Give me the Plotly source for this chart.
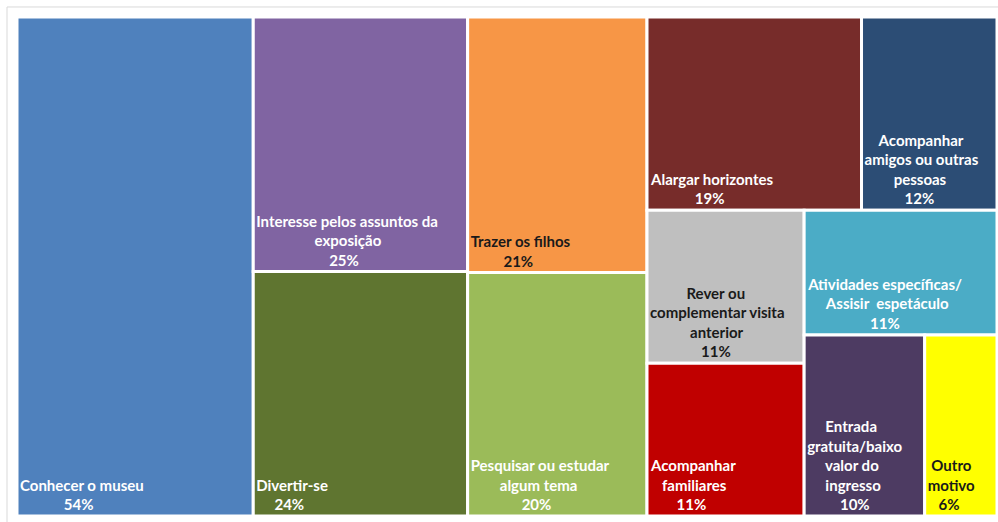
import plotly.graph_objects as go

# Motivos da visita (% de respostas, resposta múltipla)
motivos = [
    "Conhecer o museu",
    "Interesse pelos assuntos da|exposição",
    "Divertir-se",
    "Trazer os filhos",
    "Pesquisar ou estudar|algum tema",
    "Alargar horizontes",
    "Acompanhar|amigos ou outras|pessoas",
    "Rever ou|complementar visita|anterior",
    "Acompanhar|familiares",
    "Atividades específicas/|Assisir  espetáculo",
    "Entrada|gratuita/baixo|valor do|ingresso",
    "Outro|motivo",
]
percentuais = [54, 25, 24, 21, 20, 19, 12, 11, 11, 11, 10, 6]

cores = [
    "#4F81BD", "#8064A2", "#5F7530", "#F79646", "#9BBB59", "#772C2A",
    "#2C4D75", "#BFBFBF", "#C00000", "#4BACC6", "#4D3B62", "#FFFF00",
]
cores_texto = [
    "white", "white", "white", "#1a1a1a", "white", "white",
    "white", "#1a1a1a", "white", "white", "white", "#1a1a1a",
]

FONTE = 15
NBSP = "\u00a0"

# rough advance widths (em) of Lato Bold, used to centre the label lines
LARG = {
    "a": 0.51, "b": 0.56, "c": 0.46, "d": 0.56, "e": 0.52, "f": 0.33,
    "g": 0.50, "h": 0.56, "i": 0.25, "j": 0.25, "k": 0.52, "l": 0.25,
    "m": 0.83, "n": 0.56, "o": 0.56, "p": 0.56, "q": 0.56, "r": 0.37,
    "s": 0.42, "t": 0.36, "u": 0.56, "v": 0.51, "w": 0.76, "x": 0.51,
    "y": 0.51, "z": 0.44, " ": 0.193, "%": 0.76, "/": 0.37, "-": 0.35,
}
LARG_NBSP = 0.25


def largura(s):
    w = 0.0
    for c in s:
        base = "aeiou"["áàãâéêíóõôú".find(c) // 2] if c in "áàãâéêíóõôú" else c
        if base == "ç":
            base = "c"
        if base in LARG:
            w += LARG[base]
        elif base.isdigit():
            w += 0.58
        elif base.isupper():
            w += 0.66
        else:
            w += 0.52
    return w


def centralizar(linhas):
    """Pad each line with non-breaking spaces so the block reads centred."""
    maior = max(largura(l) for l in linhas)
    out = []
    for l in linhas:
        n = int(round((maior - largura(l)) / 2 / LARG_NBSP))
        out.append(NBSP * n + l)
    return "<br>".join(out)


textos = [centralizar(m.split("|") + [f"{v}%"]) for m, v in zip(motivos, percentuais)]
rotulos = [m.replace("|", " ") for m in motivos]

fig = go.Figure(
    go.Treemap(
        labels=rotulos,
        parents=[""] * len(rotulos),
        values=percentuais,
        text=textos,
        sort=True,
        branchvalues="remainder",
        marker=dict(colors=cores, line=dict(color="white", width=3),
                    pad=dict(t=0, l=0, r=0, b=0)),
        tiling=dict(packing="squarify", squarifyratio=1, pad=0),
        pathbar=dict(visible=False),
        texttemplate="%{text}",
        textposition="bottom left",
        textfont=dict(family="Lato, 'Open Sans', sans-serif", size=FONTE,
                      color=cores_texto, weight="bold"),
        hovertemplate="%{label}: %{value}%<extra></extra>",
    )
)

fig.update_layout(
    width=998,
    height=522,
    margin=dict(l=17, r=1, t=17, b=6),
    paper_bgcolor="white",
    uniformtext=dict(minsize=FONTE, mode="show"),
    shapes=[
        dict(type="rect", xref="paper", yref="paper",
             x0=-0.0102, x1=1.02, y0=-0.03, y1=1.0201,
             line=dict(color="#d9d9d9", width=1), fillcolor="rgba(0,0,0,0)",
             layer="below"),
    ],
)

fig.write_html("out.html")
